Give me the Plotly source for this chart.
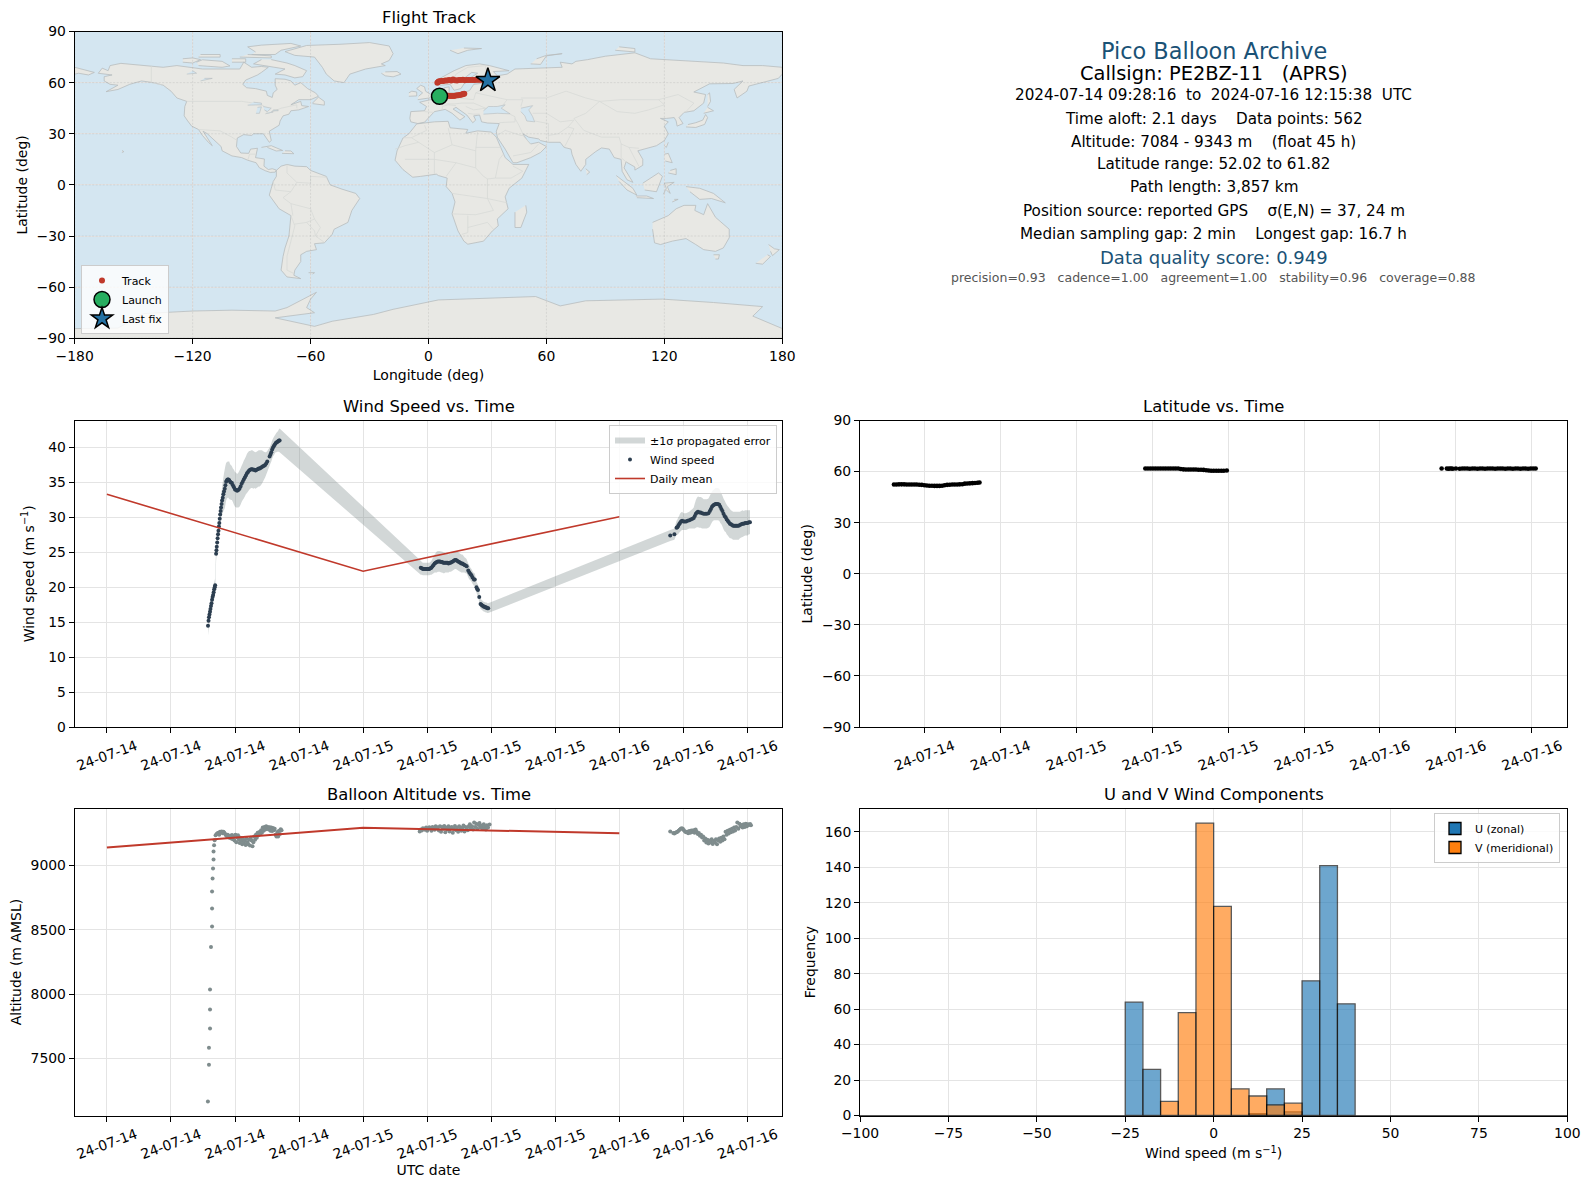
#!/usr/bin/python3
import pandas as pd
import plotly.graph_objects as go

W, H = 1589, 1189

# ---- time series, hours after 2024-07-14 00:00 UTC ----
wind_hours = [
    9.47, 9.52, 9.56, 9.61, 9.66, 9.70, 9.75, 9.80, 9.85, 9.90,
    9.95, 10.00, 10.05, 10.10, 10.14, 10.23, 10.26, 10.29, 10.33, 10.37,
    10.41, 10.45, 10.49, 10.53, 10.57, 10.61, 10.65, 10.69, 10.74, 10.79,
    10.85, 10.91, 10.97, 11.04, 11.10, 11.17, 11.24, 11.31, 11.38, 11.46,
    11.54, 11.62, 11.71, 11.80, 11.90, 12.00, 12.10, 12.20, 12.31, 12.42,
    12.52, 12.62, 12.72, 12.82, 12.92, 13.02, 13.12, 13.22, 13.32, 13.42,
    13.52, 13.62, 13.72, 13.82, 13.92, 14.02, 14.12, 14.22, 14.32, 14.42,
    14.52, 14.62, 14.72, 14.82, 14.92, 15.02, 15.24, 15.32, 15.40, 15.48,
    15.56, 15.64, 15.72, 15.80, 15.88, 15.96, 16.04, 16.12, 16.18,
    29.40, 29.50, 29.60, 29.70, 29.80, 29.90, 30.00, 30.10, 30.20, 30.30,
    30.40, 30.50, 30.60, 30.70, 30.80, 30.90, 31.00, 31.10, 31.20, 31.30,
    31.40, 31.50, 31.60, 31.70, 31.80, 31.90, 32.00, 32.10, 32.20, 32.30,
    32.40, 32.50, 32.60, 32.70, 32.80, 32.90, 33.00, 33.10, 33.20, 33.30,
    33.40, 33.50, 33.60, 33.70, 33.85, 33.95, 34.05, 34.15, 34.25, 34.38,
    34.46, 34.62, 34.70, 34.76, 34.88, 35.00, 35.08, 35.16, 35.24, 35.32,
    35.40, 35.48, 35.56, 35.64, 35.72,
    52.77, 53.16,
    53.36, 53.44, 53.52, 53.60, 53.68, 53.78, 53.88, 54.00, 54.12, 54.25,
    54.40, 54.55, 54.70, 54.85, 54.97, 55.07, 55.17, 55.27, 55.37, 55.50,
    55.62, 55.75, 55.90, 56.05, 56.20, 56.35, 56.48, 56.58, 56.68, 56.78,
    56.88, 57.00, 57.12, 57.24, 57.36, 57.46, 57.56, 57.66, 57.76, 57.86,
    57.96, 58.06, 58.16, 58.26, 58.36, 58.46, 58.56, 58.66, 58.76, 58.86,
    58.96, 59.06, 59.18, 59.30, 59.42, 59.54, 59.66, 59.78, 59.90, 60.02,
    60.14, 60.24,
]
wind_speed = [
    14.5, 15.2, 15.7, 16.1, 16.5, 16.9, 17.3, 17.7, 18.2, 18.6,
    18.9, 19.3, 19.7, 20.0, 20.3, 24.8, 25.3, 25.8, 26.4, 27.0,
    27.6, 28.1, 28.7, 29.2, 29.8, 30.4, 30.9, 31.4, 31.9, 32.4,
    32.8, 33.3, 33.7, 34.1, 34.6, 35.1, 35.3, 35.4, 35.4, 35.3,
    35.1, 35.0, 34.9, 34.6, 34.3, 34.0, 33.9, 33.8, 33.9, 34.1,
    34.4, 34.8, 35.1, 35.4, 35.7, 36.0, 36.3, 36.5, 36.7, 36.8,
    36.9, 36.9, 36.8, 36.8, 36.7, 36.8, 36.9, 37.0, 37.0, 37.1,
    37.2, 37.3, 37.4, 37.5, 37.7, 38.0, 38.7, 39.0, 39.3, 39.7,
    40.0, 40.2, 40.4, 40.6, 40.7, 40.8, 40.9, 41.0, 41.0,
    22.8, 22.7, 22.6, 22.6, 22.6, 22.6, 22.6, 22.6, 22.6, 22.7,
    22.8, 23.0, 23.2, 23.4, 23.5, 23.6, 23.7, 23.7, 23.7, 23.6,
    23.6, 23.5, 23.5, 23.5, 23.5, 23.5, 23.4, 23.5, 23.5, 23.6,
    23.7, 23.8, 23.9, 23.9, 23.8, 23.7, 23.6, 23.5, 23.4, 23.4,
    23.3, 23.2, 23.1, 23.0, 22.4, 22.1, 21.9, 21.7, 21.4, 21.1,
    21.1, 20.0, 19.7, 19.6, 18.6, 17.6, 17.5, 17.4, 17.3, 17.2,
    17.2, 17.1, 17.1, 17.0, 17.0,
    27.4, 27.6,
    28.5, 28.6, 28.8, 29.0, 29.2, 29.4, 29.5, 29.4, 29.4, 29.4,
    29.5, 29.6, 29.7, 29.8, 29.9, 30.2, 30.5, 30.7, 30.8, 30.7,
    30.7, 30.6, 30.5, 30.5, 30.5, 30.6, 30.9, 31.2, 31.5, 31.7,
    31.8, 31.9, 31.9, 31.9, 31.8, 31.5, 31.2, 30.9, 30.5, 30.2,
    30.0, 29.7, 29.5, 29.3, 29.1, 29.0, 28.9, 28.8, 28.8, 28.8,
    28.8, 28.8, 28.8, 28.9, 29.0, 29.1, 29.1, 29.2, 29.2, 29.2,
    29.3, 29.3,
]
wind_sigma = [
    1.4, 1.3, 1.3, 1.2, 1.2, 1.1, 1.0, 1.0, 1.0, 1.0,
    1.0, 1.0, 1.0, 1.0, 1.0, 1.0, 1.0, 1.0, 1.0, 1.0,
    1.1, 1.1, 1.2, 1.2, 1.3, 1.3, 1.4, 1.5, 1.7, 1.9,
    2.2, 2.4, 2.6, 2.8, 2.8, 2.7, 2.6, 2.6, 2.6, 2.7,
    2.5, 2.5, 2.4, 2.4, 2.5, 2.5, 2.5, 2.4, 2.5, 2.6,
    2.6, 2.6, 2.6, 2.7, 2.7, 2.7, 2.8, 2.8, 2.8, 2.7,
    2.7, 2.7, 2.7, 2.6, 2.6, 2.6, 2.6, 2.6, 2.6, 2.5,
    2.4, 2.2, 2.0, 1.8, 1.6, 1.5, 1.3, 1.3, 1.3, 1.3,
    1.3, 1.3, 1.3, 1.3, 1.4, 1.4, 1.5, 1.6, 1.7,
    1.0, 0.9, 0.9, 0.9, 0.9, 0.9, 0.9, 0.9, 0.9, 0.9,
    1.0, 1.1, 1.2, 1.3, 1.4, 1.5, 1.5, 1.5, 1.5, 1.5,
    1.5, 1.5, 1.5, 1.4, 1.4, 1.4, 1.3, 1.3, 1.3, 1.3,
    1.3, 1.3, 1.3, 1.3, 1.3, 1.3, 1.3, 1.3, 1.3, 1.3,
    1.2, 1.1, 1.1, 1.0, 1.0, 1.0, 0.9, 0.9, 0.9, 0.9,
    0.9, 0.8, 0.8, 0.8, 0.8, 0.7, 0.7, 0.7, 0.7, 0.7,
    0.7, 0.7, 0.7, 0.7, 0.7,
    0.8, 0.8,
    1.0, 1.1, 1.2, 1.2, 1.3, 1.3, 1.3, 1.2, 1.2, 1.2,
    1.2, 1.2, 1.3, 1.4, 1.5, 1.8, 2.0, 2.1, 2.2, 2.2,
    2.2, 2.2, 2.1, 2.1, 2.1, 2.1, 2.2, 2.2, 2.2, 2.2,
    2.2, 2.3, 2.3, 2.3, 2.3, 2.3, 2.2, 2.2, 2.2, 2.2,
    2.1, 2.1, 2.1, 2.1, 2.1, 2.0, 2.0, 2.0, 2.0, 2.0,
    2.0, 2.0, 2.0, 1.9, 1.9, 1.9, 1.8, 1.8, 1.8, 1.8,
    1.7, 1.7,
]
mean_days = ['2024-07-14', '2024-07-15', '2024-07-16']
mean_wind = [33.3, 22.3, 30.1]
mean_alt = [9140, 9293, 9251]

alt_hours = [
    9.46, 9.56, 9.56, 9.66, 9.66, 9.66, 9.75, 9.85, 9.85, 9.85,
    9.90, 9.94, 9.99, 9.99, 10.04, 10.09, 10.18,
    10.28, 10.36, 10.44, 10.52, 10.60, 10.68, 10.76, 10.84, 10.92, 11.00,
    11.08, 11.16, 11.24, 11.32, 11.40, 11.48, 11.56, 11.64, 11.72, 11.80,
    11.88, 11.96, 12.04, 12.12, 12.20, 12.28, 12.36, 12.44, 12.52, 12.60,
    12.68, 12.76, 12.84, 12.92, 13.00, 13.08, 13.16, 13.24, 13.32, 13.40,
    13.48, 13.56, 13.64, 13.72, 13.80, 13.88, 13.96, 14.04, 14.12, 14.20,
    14.28, 14.36, 14.44, 14.52, 14.60, 14.68, 14.76, 14.84, 14.92, 15.00,
    15.08, 15.16, 15.24, 15.32, 15.40, 15.48, 15.56, 15.64, 15.72, 15.80,
    15.88, 15.96, 16.04, 16.12, 16.20, 16.28, 16.36,
    29.30, 29.40, 29.50, 29.60, 29.70, 29.80, 29.90, 30.00, 30.10, 30.20,
    30.30, 30.40, 30.50, 30.60, 30.70, 30.80, 30.90, 31.00, 31.10, 31.20,
    31.30, 31.40, 31.50, 31.60, 31.70, 31.80, 31.90, 32.00, 32.10, 32.20,
    32.30, 32.40, 32.50, 32.60, 32.70, 32.80, 32.90, 33.00, 33.10, 33.20,
    33.30, 33.40, 33.50, 33.60, 33.70, 33.80, 33.90, 34.00, 34.10, 34.20,
    34.30, 34.40, 34.50, 34.60, 34.70, 34.80, 34.90, 35.00, 35.10, 35.20,
    35.30, 35.40, 35.50, 35.60, 35.70, 35.85,
    52.77, 53.05, 53.15, 53.25, 53.35, 53.45, 53.55, 53.65, 53.75, 53.85,
    53.95, 54.05, 54.15, 54.25, 54.35, 54.45, 54.55, 54.65, 54.75, 54.85,
    54.95, 55.05, 55.15, 55.25, 55.35, 55.45, 55.55, 55.65, 55.75, 55.85,
    55.95, 56.05, 56.15, 56.25, 56.35, 56.45, 56.55, 56.65, 56.75, 56.85,
    56.95, 57.05, 57.15, 57.25, 57.35, 57.45, 57.55, 57.65, 57.75, 57.85,
    57.95, 58.05, 58.15, 58.25, 58.35, 58.45, 58.55, 58.65, 58.75, 58.85,
    58.95, 59.05, 59.15, 59.25, 59.35, 59.45, 59.55, 59.65, 59.75, 59.85,
    59.95, 60.05, 60.15, 60.25, 60.33,
]
altitude = [
    7166, 7453, 7585, 7733, 7881, 8036, 8368, 8526, 8666, 8798,
    8899, 8977, 9047, 9109, 9158, 9197, 9236,
    9245, 9250, 9255, 9240, 9262, 9258, 9265, 9250, 9262, 9255,
    9245, 9235, 9228, 9240, 9225, 9215, 9232, 9210, 9238, 9205,
    9225, 9195, 9240, 9180, 9220, 9235, 9200, 9175, 9215, 9190,
    9165, 9205, 9175, 9195, 9160, 9210, 9180, 9165, 9200, 9155,
    9215, 9195, 9150, 9180, 9225, 9200, 9240, 9215, 9255, 9235,
    9260, 9245, 9275, 9255, 9295, 9270, 9300, 9280, 9305, 9285,
    9300, 9280, 9298, 9270, 9295, 9268, 9292, 9275, 9285, 9240,
    9225, 9260, 9225, 9270, 9245, 9282, 9275,
    9265, 9280, 9272, 9290, 9285, 9278, 9295, 9270, 9288, 9298,
    9285, 9270, 9300, 9292, 9278, 9305, 9288, 9298, 9272, 9306,
    9262, 9300, 9285, 9308, 9258, 9295, 9280, 9305, 9265, 9290,
    9300, 9255, 9285, 9308, 9275, 9295, 9262, 9305, 9285, 9270,
    9295, 9310, 9265, 9300, 9285, 9275, 9305, 9320, 9290, 9305,
    9280, 9335, 9300, 9325, 9285, 9315, 9330, 9295, 9310, 9285,
    9320, 9300, 9280, 9312, 9295, 9318,
    9265, 9252, 9248, 9255, 9258, 9262, 9270, 9278, 9285, 9290,
    9285, 9275, 9265, 9258, 9262, 9250, 9268, 9255, 9272, 9260,
    9275, 9255, 9280, 9262, 9245, 9252, 9232, 9240, 9218, 9226,
    9195, 9210, 9178, 9200, 9172, 9195, 9178, 9205, 9168, 9190,
    9180, 9205, 9165, 9195, 9210, 9185, 9215, 9195, 9225, 9205,
    9262, 9240, 9270, 9248, 9278, 9258, 9285, 9265, 9295, 9272,
    9300, 9335, 9285, 9325, 9305, 9315, 9295, 9320, 9300, 9325,
    9305, 9320, 9315, 9322, 9312,
]

lat_hours = [
    9.60, 9.80, 10.00, 10.20, 10.40, 10.60, 10.80, 11.00, 11.20, 11.40,
    11.60, 11.80, 12.00, 12.20, 12.40, 12.60, 12.80, 13.00, 13.20, 13.40,
    13.60, 13.80, 14.00, 14.20, 14.40, 14.60, 14.80, 15.00, 15.20, 15.40,
    15.60, 15.80, 16.00, 16.20, 16.36,
    29.46, 29.66, 29.86, 30.06, 30.26, 30.46, 30.66, 30.86, 31.06, 31.26,
    31.46, 31.66, 31.86, 32.06, 32.26, 32.46, 32.66, 32.86, 33.06, 33.26,
    33.46, 33.66, 33.86, 34.06, 34.26, 34.46, 34.66, 34.86, 35.06, 35.26,
    35.46, 35.66, 35.90,
    52.87, 53.28, 53.40, 53.52, 53.64, 53.76, 54.00, 54.30, 54.50, 54.70,
    54.90, 55.10, 55.30, 55.50, 55.70, 55.90, 56.10, 56.30, 56.50, 56.70,
    56.90, 57.10, 57.30, 57.50, 57.70, 57.90, 58.10, 58.30, 58.50, 58.70,
    58.90, 59.10, 59.30, 59.50, 59.70, 59.90, 60.10, 60.30,
]
latitude = [
    52.4, 52.4, 52.5, 52.5, 52.5, 52.4, 52.4, 52.4, 52.4, 52.4,
    52.3, 52.2, 52.0, 51.8, 51.7, 51.7, 51.6, 51.6, 51.6, 51.7,
    52.0, 52.2, 52.3, 52.4, 52.4, 52.4, 52.5, 52.6, 52.9, 53.0,
    53.1, 53.2, 53.3, 53.4, 53.6,
    61.8, 61.8, 61.8, 61.8, 61.8, 61.8, 61.8, 61.8, 61.8, 61.8,
    61.8, 61.8, 61.8, 61.8, 61.5, 61.3, 61.2, 61.2, 61.2, 61.2,
    61.2, 61.1, 61.1, 61.0, 60.8, 60.6, 60.5, 60.5, 60.5, 60.5,
    60.5, 60.5, 60.6,
    61.8, 61.8, 61.7, 61.8, 61.8, 61.7, 61.8, 61.7, 61.8, 61.8,
    61.8, 61.7, 61.8, 61.8, 61.7, 61.8, 61.8, 61.7, 61.8, 61.8,
    61.8, 61.7, 61.8, 61.8, 61.8, 61.7, 61.8, 61.8, 61.7, 61.8,
    61.8, 61.7, 61.8, 61.8, 61.7, 61.8, 61.8, 61.8,
]

# ---- histogram, 5 m/s bins ----
u_centers = [-22.5, -17.5, 12.5, 17.5, 22.5, 27.5, 32.5, 37.5]
u_counts = [64, 26, 1, 15, 2, 76, 141, 63]
v_centers = [-12.5, -7.5, -2.5, 2.5, 7.5, 12.5, 17.5, 22.5]
v_counts = [8, 58, 165, 118, 15, 11, 6, 7]

# ---- flight track ----
track_lon = [
    5.2, 6, 7, 8, 9, 10, 11, 12, 13, 14, 15, 16, 17, 17.6, 18.2,
    4.5, 5, 5.5, 6.5, 7.5, 8.5, 9.5, 10.5, 11.5, 12.5, 13.5, 14.5, 15.5, 16.5,
    17.5, 18.5, 19.5, 20.5, 21.5, 22.5, 23.5, 24.5, 25.5, 26.5, 27.5, 28.5, 29.5, 30.3,
]
track_lat = [
    52.0, 52.1, 52.3, 52.3, 52.3, 52.3, 52.2, 52.1, 52.2, 52.5, 52.6, 52.8, 53.1, 53.3, 53.5,
    60.0, 60.5, 60.8, 61.0, 61.0, 61.3, 61.2, 61.5, 61.3, 61.8, 61.4, 61.3, 61.6, 61.5,
    61.7, 61.4, 61.5, 61.6, 61.5, 61.6, 61.6, 61.7, 61.7, 61.7, 61.7, 61.7, 61.7, 61.7,
]
launch_lon, launch_lat = [5.6], [52.0]
last_lon, last_lat = [30.2], [61.3]

# ---- base map outlines (lon, lat) ----
north_america = [(-168,65.5),(-166,68.5),(-163,67),(-162,70),(-156.5,71.3),(-150,70.5),(-141,69.7),(-135,69),(-128,70),(-125,69.5),(-115,68),(-108,68),(-100,68),(-96,68),(-94,72),(-90,69),(-85,69.5),(-81.5,69),(-85,66),(-87,64.5),(-93,61.5),(-94.5,59),(-92.5,57),(-88,56.5),(-82.5,55),(-82,52.5),(-79.5,51.3),(-79,54),(-77,56),(-78,58.5),(-78,62.3),(-73,62),(-70,61),(-68,58.5),(-65,60),(-61.5,56.5),(-57.5,54),(-56,52),(-60,50),(-66,50),(-70,47),(-65,49),(-64.5,46.5),(-61,46),(-66,44),(-70,43.5),(-71,41.5),(-74,40.5),(-75.5,37.5),(-76,35),(-81,31.5),(-80,26),(-81,25),(-82.7,28),(-84,30),(-89,30),(-90,29),(-94,29.5),(-97.3,27.5),(-97.7,22.5),(-95.5,18.7),(-91.5,18.5),(-90.5,21),(-87,21.5),(-88,16),(-83.5,15.2),(-83.7,11),(-81.5,9),(-79.5,9.5),(-77.4,8.7),(-78,7.5),(-80.5,7.3),(-83,8.3),(-86,10),(-87.7,13),(-92,14.5),(-95,16),(-100,17),(-105,20),(-105.5,22.5),(-109,26),(-112.5,30),(-114.7,31.5),(-112,26.5),(-110,23),(-112,25),(-115,29),(-117,32.5),(-120.5,34.5),(-122.5,37.5),(-124.3,40.5),(-124,46),(-123,49),(-128,51),(-131,55),(-135,58.5),(-140,60),(-146,61),(-152,59),(-158,56),(-164,54.7),(-158,58.5),(-162,59),(-165,61),(-165,63.5),(-161,64.5),(-168,65.5)]
greenland = [(-73,78.2),(-68,80),(-62,81.8),(-45,82.5),(-30,83.5),(-20,81.5),(-18,77),(-20,73),(-24,71),(-22,70),(-32,68),(-40,65),(-43,60),(-48,61),(-52,65),(-54,69),(-58,75),(-68,76),(-73,78.2)]
baffin = [(-80,73.5),(-72,71.5),(-68,70),(-62,67),(-64,63.5),(-68,62.8),(-73,64.5),(-78,65),(-73,68),(-85,70),(-89,71),(-85,73.5)]
victoria_isl = [(-117,70),(-105,69),(-101,69.8),(-105,72.5),(-115,73.4),(-118,72)]
banks_isl = [(-125,72),(-120,71.5),(-116,73.5),(-120,74.5),(-125,74)]
ellesmere = [(-90,76.5),(-78,76.5),(-75,79),(-65,81.5),(-70,83),(-85,82),(-92,81),(-88,78)]
devon_isl = [(-96,75),(-80,74.5),(-80,75.7),(-92,76.5)]
melville_isl = [(-117,75),(-106,75),(-106,76.5),(-116,76.5)]
somerset_isl = [(-100,72),(-93,72),(-93,74),(-100,74)]
newfoundland = [(-59,47.7),(-53,46.8),(-53,49),(-56,51.5),(-59,48)]
cuba = [(-85,22),(-80,23),(-74.2,20.2),(-77.5,19.9),(-82,22)]
hispaniola = [(-74.5,18.5),(-68.5,18.3),(-70,19.9),(-73,20)]
hawaii = [(-156,19),(-155,19.5),(-155.9,20.2)]
south_america = [(-77.4,8.5),(-75,11),(-72,12),(-68,11),(-62,10.7),(-60,8.5),(-52,5),(-50,0),(-44,-2.5),(-37,-5),(-35,-8),(-39,-15),(-41,-22),(-48,-26),(-49,-29),(-53,-34),(-58,-34.5),(-57,-38),(-62,-39),(-65,-41),(-65,-45),(-68,-50),(-68.5,-53),(-65,-55),(-72,-54),(-75,-50),(-74,-42),(-73,-37),(-71,-30),(-70,-18),(-76,-14),(-81,-6),(-80,-2),(-79,2),(-77.4,5),(-77.4,8.5)]
falklands = [(-61,-51.5),(-58,-51.5),(-59,-52.3)]
africa = [(-6,35.8),(3,37),(10,37.3),(11,33.5),(20,32.5),(19,30.3),(25,31.7),(32,31),(34.5,28),(37,21),(39,16),(43,12),(51,12),(47.5,4),(41,-2),(39,-7),(40.5,-14),(35,-20),(35.5,-24),(32.5,-27),(28,-33),(20,-34.8),(18,-33),(15,-27),(12,-17),(13.5,-10),(12,-5),(9,-1),(9.5,4),(5,5.5),(4,6.3),(-4,5),(-8,4.5),(-13,9),(-17,14.5),(-16,20),(-13,27.5),(-10,30),(-6,35.8)]
eurasia = [(-9,37),(-9.5,39),(-9,43),(-2,43.5),(-1,46),(-4.5,48.5),(1,50),(4,52),(8,54),(8,57),(10.5,57.5),(10.5,54),(14,54),(19,54.5),(21,55.5),(23,59),(30,60),(23,60),(21.5,63),(25,65.5),(22,66),(17.5,62),(18.5,60),(16.5,56.5),(13,55.5),(11,59),(6,58.5),(5,62),(13,67),(19,70),(26,71),(31,70),(41,67),(33,66.5),(35,64),(40,65),(44,68),(54,68.5),(60,69),(68,69),(67,72),(73,71),(75,72.5),(81,73.5),(90,75.5),(105,77.5),(113,74),(128,73),(140,72.5),(150,71.5),(160,70),(170,70),(180,69),(180,65),(178,62.5),(170,60),(163,58),(162,55),(157,51),(155.5,56),(160,61),(155,59.5),(143,59.3),(135,54.5),(141,53),(140,48),(135,43.5),(130,42.5),(127.5,39.5),(129.5,36),(126.5,34.5),(126,37.5),(125,39.5),(121,39),(118,39),(122,37),(120,34.5),(122,30),(120,26),(116,23),(110,21),(106.5,20),(109,15),(109,11.5),(105,8.7),(105,10.5),(100.5,13.5),(99.5,10),(104,1.5),(101,3),(98.5,8),(98,15),(94.5,16),(92,21),(88,21.7),(85,19.5),(80,15),(80,12),(77.5,8),(75,12),(73,18),(72.5,21),(69,22),(67,25),(61,25),(57,26),(56,27),(51,28),(48,30),(50,26.5),(52,24),(56,25),(60,22.5),(57,19),(52,16),(45,13),(43,13),(39,21),(35,28),(34.5,31.5),(36,36),(30,36.3),(27,37),(26,40),(26,41),(23,40.5),(24,38),(22.5,36.5),(19.5,41),(14,45.5),(12.5,44.5),(18.5,40),(16,38),(12,42),(8.5,44.3),(3,43),(0,39),(-2,36.8),(-5.5,36),(-9,37)]
chukotka = [(-180,69),(-175,67.5),(-170,66),(-173,64.5),(-178,65.5),(-180,65)]
britain = [(-5.5,50),(1.5,51.2),(1.5,52.8),(-1.5,55),(-2,57.5),(-4,58.5),(-6,56.5),(-3,54),(-5,52)]
ireland = [(-10,52),(-6,52.2),(-6,54.5),(-8.5,55),(-10,54)]
iceland = [(-24,65.5),(-22,64),(-18,63.4),(-14,65),(-16,66.5),(-22,66.3)]
svalbard = [(11,79),(15,77),(20,79),(27,80),(18,80.3)]
novaya_zemlya = [(52,71),(57,70.7),(60,75.7),(68,77),(60,76),(55,74)]
severnaya = [(95,79),(105,78),(105,80),(97,81)]
honshu = [(131,34),(136,33.7),(140.5,35.5),(142,39.5),(141,41.3),(139.5,38),(136,36.5),(132,35.4)]
hokkaido = [(140,42),(145,43.5),(142,45.5)]
sakhalin = [(142,46),(143.5,49),(143,54),(142,53)]
taiwan = [(120,23),(121,22),(122,25)]
luzon = [(120,18),(122,18.5),(124,13),(120.5,14)]
mindanao = [(122,7),(126,6),(126,9.5),(123,8.5)]
borneo = [(109,1),(114,4.5),(117,7),(119,5),(117.5,1),(116,-4),(110,-3)]
sumatra = [(95.5,5.5),(104,-2),(106,-6),(101,-3),(97,2)]
java = [(105.5,-6.5),(111,-6.5),(114.5,-8),(106,-7.5)]
sulawesi = [(119.5,-5.5),(121,-2),(120,1),(125,1.5),(121.5,-1),(123,-5),(121,-3)]
new_guinea = [(131,-1),(138,-2),(145,-5),(151,-10.5),(144,-8),(138,-8.5),(133,-4)]
timor = [(124,-10),(127,-8.5),(125,-8.5)]
sri_lanka = [(80,9.5),(82,7.5),(80.5,6)]
madagascar = [(49.5,-12),(50,-16),(47,-25),(44,-25),(44,-16)]
australia = [(114,-22),(122,-18),(126,-14),(130,-12),(136,-12),(135.5,-15),(140,-17.5),(142,-11),(146,-19),(153,-26),(153,-31),(150,-37),(146,-39),(140,-38),(136,-35),(131,-31.5),(124,-33),(118,-35),(115,-34),(114,-26)]
tasmania = [(145,-41),(148,-41),(147.5,-43.5),(146,-43.5)]
nz_north = [(173,-35),(176,-37.5),(178.5,-38),(175,-41.5),(174,-39)]
nz_south = [(172.5,-41),(174,-42),(170,-46.5),(166.5,-46)]
antarctica = [(-180,-84.3),(-158,-84),(-145,-75.5),(-120,-74),(-100,-73.5),(-78,-74),(-72,-72),(-65,-68),(-57,-63),(-60,-67),(-62,-72),(-58,-75),(-78,-78),(-58,-83),(-49,-80),(-28,-76),(-18,-73),(5,-67.5),(28.6,-66.5),(54.5,-65.5),(67,-71),(80,-68),(119,-67),(145,-69),(170,-71.4),(165,-77),(180,-84.3),(180,-90),(-180,-90)]

land_shapes = [north_america, greenland, baffin, victoria_isl, banks_isl, ellesmere, devon_isl,
               melville_isl, somerset_isl, newfoundland, cuba, hispaniola, hawaii, south_america,
               falklands, africa, eurasia, chukotka, britain, ireland, iceland, svalbard,
               novaya_zemlya, severnaya, honshu, hokkaido, sakhalin, taiwan, luzon, mindanao,
               borneo, sumatra, java, sulawesi, new_guinea, timor, sri_lanka, madagascar,
               australia, tasmania, nz_north, nz_south, antarctica]

black_sea = [(28,41.5),(35,42),(41.5,41.7),(37,45),(39,47),(35,46),(33,46),(30.5,46),(28,43.5)]
caspian = [(47,45),(53,46.5),(51,44),(53,40),(54,37),(50,37.5),(49,40.5),(47,43)]
superior = [(-92,46.8),(-85,47),(-85,48),(-89,48.5)]
michigan = [(-87.8,42),(-86,42),(-85,45.8),(-87,45.5)]
huron = [(-84,46),(-80,45),(-82,43),(-83.5,44)]
erie = [(-83,41.7),(-79,42.8),(-80,43)]
ontario = [(-79.5,43.5),(-76.5,43.5),(-76.5,44),(-79,44)]
great_bear = [(-123,65),(-118,65.5),(-120,67)]
great_slave = [(-116,61),(-110,62.5),(-114,62.5)]
water_shapes = [black_sea, caspian, superior, michigan, huron, erie, ontario, great_bear, great_slave]

border_lines = [
    [(-123,49),(-95,49),(-89,48),(-84,46.5),(-82,42),(-79,43),(-75,45),(-70,46),(-67,47),(-67,45)],
    [(-141,70),(-141,60),(-135,58.5)],
    [(-117,32.5),(-108,31.5),(-106,31.7),(-100,28),(-97.3,26)],
    [(-92,14.5),(-91,18),(-88,18)],
    [(-51.5,4.5),(-60,5),(-60,1),(-67,1.5),(-70,-4),(-74,-7.5),(-70,-11),(-60,-14),(-58,-20),(-55,-25),(-57.5,-30),(-53,-33.7)],
    [(-72,12),(-72,7),(-67,1.5)],
    [(-70,-4),(-78,-3),(-79,2)],
    [(-70,-18),(-68,-24),(-70,-33),(-72,-42),(-72,-50),(-68.5,-52)],
    [(-70,-11),(-69,-18)],
    [(-58,-20),(-62,-22),(-68,-23)],
    [(-62,-22),(-58,-27),(-57.5,-30)],
    [(-13,27.7),(-8.7,27.7),(-1,32),(-2,35)],
    [(-8.7,27.7),(-5,25),(-12,23),(-17,21)],
    [(-5,25),(3,19),(12,23.5),(24,20),(25,31.7)],
    [(10,33.5),(12,23.5)],
    [(24,22),(37,22)],
    [(24,20),(24,10),(28,5),(30,3.5),(34,4),(42,4),(48,8),(43,11)],
    [(34,4),(36,15),(38,18)],
    [(-12,15),(3,15),(14,13),(24,10)],
    [(3,19),(3,12),(3,6.5)],
    [(14,13),(9,5)],
    [(12,-5),(30,-8),(30,3.5)],
    [(30,-8),(40,-10.5)],
    [(12,-17),(24,-17.5),(33,-15),(30,-8)],
    [(20,-18),(20,-28),(17,-29)],
    [(20,-25),(30,-22),(33,-26)],
    [(2,51),(7,49),(8,47.5),(13,47.5),(17,48),(23,48),(29,45)],
    [(7,53.5),(7,49)],
    [(-2,43),(3,42.5)],
    [(7,44),(7,46),(10,47),(14,46.5)],
    [(14,54),(15,51),(23,50),(24,54),(28,56),(28,59.5)],
    [(24,54),(32,52),(40,50),(38,47)],
    [(20,42),(23,41.5),(26,41.5)],
    [(19,46),(23,44),(29,45)],
    [(29,70),(30,62),(27,60.5)],
    [(12,60),(14,65),(20,69),(29,70)],
    [(40,50),(48,50),(47,46)],
    [(47,51),(60,51),(70,55),(80,51),(87,49),(98,50),(107,50),(117,50),(127,53),(135,48),(131,43),(130,42.5)],
    [(87,49),(96,43),(105,42),(112,44),(120,47),(117,50)],
    [(74,39),(80,42),(87,49)],
    [(74,39),(79,32),(88,28),(97,28),(98,24),(102,22),(107,21.5)],
    [(53,42),(60,42),(67,37),(74,38)],
    [(61,36),(61,25)],
    [(44,39),(46,35),(48,30)],
    [(61,36),(54,37.5)],
    [(36,36.5),(44,37),(44,40),(41.5,41.5)],
    [(35,29),(39,32),(47,29),(48,29),(52,24)],
    [(43,17),(52,19),(56,24)],
    [(61,29),(66,30),(71,34),(74,38)],
    [(71,34),(74,33),(70,24),(69,22)],
    [(98,24),(98,16),(101,13)],
    [(102,22),(105,15),(107,11)],
]

map_xticks = [-180, -120, -60, 0, 60, 120, 180]
map_yticks = [-90, -60, -30, 0, 30, 60, 90]

title_blue = '#1a5276'
red = '#c0392b'
slate = '#2c3e50'
gray = '#7f8c8d'
grid = '#e4e4e4'


def hours_to_time(hours):
    return pd.Timestamp('2024-07-14') + pd.to_timedelta(hours, unit='h')


def join_paths(paths):
    xs, ys = [], []
    for path in paths:
        xs += [p[0] for p in path] + [None]
        ys += [p[1] for p in path] + [None]
    return xs, ys


# pixel helpers, margins are zero so paper coords map straight to the page
def px_x(p):
    return p / W


def px_y(p):
    return 1 - p / H


left_col = [px_x(74.7), px_x(782.3)]
right_col = [px_x(860), px_x(1567.3)]
row1 = [px_y(338.3), px_y(31.5)]
row2 = [px_y(727), px_y(420.5)]
row3 = [px_y(1115.5), px_y(808.5)]

fig = go.Figure()

# Flight track panel
land_x, land_y = join_paths(land_shapes)
fig.add_trace(go.Scatter(x=land_x, y=land_y, xaxis='x', yaxis='y', mode='lines', fill='toself',
                         fillcolor='#e8e8e4', line=dict(color='#b7bcbe', width=0.8),
                         showlegend=False, hoverinfo='skip'))
border_x, border_y = join_paths(border_lines)
fig.add_trace(go.Scatter(x=border_x, y=border_y, xaxis='x', yaxis='y', mode='lines',
                         line=dict(color='#d6d8d6', width=0.7), showlegend=False, hoverinfo='skip'))
water_x, water_y = join_paths(water_shapes)
fig.add_trace(go.Scatter(x=water_x, y=water_y, xaxis='x', yaxis='y', mode='lines', fill='toself',
                         fillcolor='#d4e6f1', line=dict(color='#b7bcbe', width=0.6),
                         showlegend=False, hoverinfo='skip'))
grid_paths = [[(v, -90), (v, 90)] for v in map_xticks] + [[(-180, v), (180, v)] for v in map_yticks]
grid_x, grid_y = join_paths(grid_paths)
fig.add_trace(go.Scatter(x=grid_x, y=grid_y, xaxis='x', yaxis='y', mode='lines',
                         line=dict(color='rgba(128,128,128,0.25)', width=0.7, dash='2px,1.5px'),
                         showlegend=False, hoverinfo='skip'))
fig.add_trace(go.Scatter(x=track_lon, y=track_lat, xaxis='x', yaxis='y', mode='markers', name='Track',
                         marker=dict(color=red, size=6), legend='legend'))
fig.add_trace(go.Scatter(x=launch_lon, y=launch_lat, xaxis='x', yaxis='y', mode='markers', name='Launch',
                         marker=dict(color='#27ae60', size=16, line=dict(color='black', width=1.5)),
                         legend='legend'))
fig.add_trace(go.Scatter(x=last_lon, y=last_lat, xaxis='x', yaxis='y', mode='markers', name='Last fix',
                         marker=dict(color='#2471a3', size=18, symbol='star', line=dict(color='black', width=1.5)),
                         legend='legend'))

# Wind speed panel
wind_times = hours_to_time(wind_hours)
band_upper = [v + s for v, s in zip(wind_speed, wind_sigma)]
band_lower = [v - s for v, s in zip(wind_speed, wind_sigma)]
fig.add_trace(go.Scatter(x=list(wind_times) + list(wind_times[::-1]), y=band_upper + band_lower[::-1],
                         xaxis='x2', yaxis='y2', mode='none', fill='toself',
                         fillcolor='rgba(127,140,141,0.35)', name='±1σ propagated error', legend='legend2'))
fig.add_trace(go.Scatter(x=wind_times, y=wind_speed, xaxis='x2', yaxis='y2', mode='markers', name='Wind speed',
                         marker=dict(color=slate, size=4), legend='legend2'))
fig.add_trace(go.Scatter(x=mean_days, y=mean_wind, xaxis='x2', yaxis='y2', mode='lines', name='Daily mean',
                         line=dict(color=red, width=1.6), legend='legend2'))

# Latitude panel
fig.add_trace(go.Scatter(x=hours_to_time(lat_hours), y=latitude, xaxis='x3', yaxis='y3', mode='markers',
                         marker=dict(color='black', size=4.6), showlegend=False))

# Altitude panel
fig.add_trace(go.Scatter(x=hours_to_time(alt_hours), y=altitude, xaxis='x4', yaxis='y4', mode='markers',
                         marker=dict(color=gray, size=4), showlegend=False))
fig.add_trace(go.Scatter(x=mean_days, y=mean_alt, xaxis='x4', yaxis='y4', mode='lines',
                         line=dict(color=red, width=2), showlegend=False))

# U and V histogram
fig.add_trace(go.Bar(x=u_centers, y=u_counts, width=5, xaxis='x5', yaxis='y5', name='U (zonal)',
                     marker=dict(color='#1f77b4', opacity=0.65, line=dict(color='black', width=1.3)),
                     legend='legend3'))
fig.add_trace(go.Bar(x=v_centers, y=v_counts, width=5, xaxis='x5', yaxis='y5', name='V (meridional)',
                     marker=dict(color='#ff7f0e', opacity=0.65, line=dict(color='black', width=1.3)),
                     legend='legend3'))

axis_style = dict(showline=True, mirror=True, linecolor='black', linewidth=1, ticks='outside',
                  ticklen=5, tickwidth=1, tickcolor='black', showgrid=True, gridcolor=grid,
                  gridwidth=1, zeroline=False, tickfont=dict(size=13.9))
time_style = dict(type='date', tick0='2024-07-14', dtick=6 * 3600 * 1000, tickformat='%y-%m-%d',
                  tickangle=-20, ticklabelshift=29, **axis_style)


def axis_title(text, standoff):
    return dict(text=text, standoff=standoff, font=dict(size=14))


fig.update_layout(
    width=W, height=H, margin=dict(l=0, r=0, t=0, b=0, autoexpand=False), autosize=False,
    paper_bgcolor='white', plot_bgcolor='white', barmode='overlay',
    font=dict(family='DejaVu Sans', color='black', size=14),
    xaxis=dict(domain=left_col, anchor='y', range=[-180, 180], tickvals=map_xticks,
               title=axis_title('Longitude (deg)', 7), **axis_style),
    yaxis=dict(domain=row1, anchor='x', range=[-90, 90], tickvals=map_yticks,
               title=axis_title('Latitude (deg)', 5), **axis_style),
    xaxis2=dict(domain=left_col, anchor='y2', range=['2024-07-13 20:59', '2024-07-16 15:16'], **time_style),
    yaxis2=dict(domain=row2, anchor='x2', range=[0, 43.86], dtick=5,
                title=axis_title('Wind speed (m s<sup>−1</sup>)', 10), **axis_style),
    xaxis3=dict(domain=right_col, anchor='y3', range=['2024-07-14 06:55', '2024-07-16 14:48'], **time_style),
    yaxis3=dict(domain=row2, anchor='x3', range=[-90, 90], dtick=30,
                title=axis_title('Latitude (deg)', 5), **axis_style),
    xaxis4=dict(domain=left_col, anchor='y4', range=['2024-07-13 20:59', '2024-07-16 15:16'],
                title=axis_title('UTC date', 4), **time_style),
    yaxis4=dict(domain=row3, anchor='x4', range=[7058, 9443], tickvals=[7500, 8000, 8500, 9000],
                title=axis_title('Altitude (m AMSL)', 5), **axis_style),
    xaxis5=dict(domain=right_col, anchor='y5', range=[-100, 100], dtick=25,
                title=axis_title('Wind speed (m s<sup>−1</sup>)', 8), **axis_style),
    yaxis5=dict(domain=row3, anchor='x5', range=[0, 173.25], dtick=20,
                title=axis_title('Frequency', 5), **axis_style),
    legend=dict(x=px_x(81), y=px_y(334), xanchor='left', yanchor='bottom', font=dict(size=11),
                bgcolor='rgba(255,255,255,0.8)', bordercolor='#cccccc', borderwidth=1, tracegroupgap=0),
    legend2=dict(x=px_x(777), y=px_y(425), xanchor='right', yanchor='top', font=dict(size=11),
                 bgcolor='rgba(255,255,255,0.8)', bordercolor='#cccccc', borderwidth=1, tracegroupgap=0),
    legend3=dict(x=px_x(1560), y=px_y(813), xanchor='right', yanchor='top', font=dict(size=11),
                 bgcolor='rgba(255,255,255,0.8)', bordercolor='#cccccc', borderwidth=1, tracegroupgap=0),
)
fig.update_yaxes(zeroline=True, zerolinecolor='rgba(0,0,0,0.65)', zerolinewidth=2, selector=dict(anchor='x5'))

# ocean colour sits behind the land of the map panel only
fig.add_shape(type='rect', xref='x domain', yref='y domain', x0=0, x1=1, y0=0, y1=1,
              fillcolor='#d4e6f1', line_width=0, layer='below')


def add_title(text, domain, top_px):
    fig.add_annotation(text=text, x=sum(domain) / 2, y=px_y(top_px - 2), xref='paper', yref='paper',
                       xanchor='center', yanchor='bottom', showarrow=False, font=dict(size=16.4))


add_title('Flight Track', left_col, 31)
add_title('Wind Speed vs. Time', left_col, 420)
add_title('Latitude vs. Time', right_col, 420)
add_title('Balloon Altitude vs. Time', left_col, 808)
add_title('U and V Wind Components', right_col, 808)


def add_info(text, y_px, size, color='black'):
    fig.add_annotation(text=text, x=sum(right_col) / 2, y=px_y(y_px), xref='paper', yref='paper',
                       xanchor='center', yanchor='middle', showarrow=False, font=dict(size=size, color=color))


add_info('Pico Balloon Archive', 51, 22.4, title_blue)
add_info('Callsign: PE2BZ-11   (APRS)', 73, 19.4)
add_info('2024-07-14 09:28:16  to  2024-07-16 12:15:38  UTC', 95.5, 15.2)
add_info('Time aloft: 2.1 days    Data points: 562', 118.5, 15.2)
add_info('Altitude: 7084 - 9343 m    (float 45 h)', 142, 15.2)
add_info('Latitude range: 52.02 to 61.82', 163.7, 15.2)
add_info('Path length: 3,857 km', 187.5, 15.2)
add_info('Position source: reported GPS    σ(E,N) = 37, 24 m', 211, 15.2)
add_info('Median sampling gap: 2 min    Longest gap: 16.7 h', 234, 15.2)
add_info('Data quality score: 0.949', 257.5, 18, title_blue)
add_info('precision=0.93   cadence=1.00   agreement=1.00   stability=0.96   coverage=0.88', 278, 12.5, '#555555')

fig.write_html("out.html", config=dict(displayModeBar=False), post_script="document.body.style.margin='0';")
